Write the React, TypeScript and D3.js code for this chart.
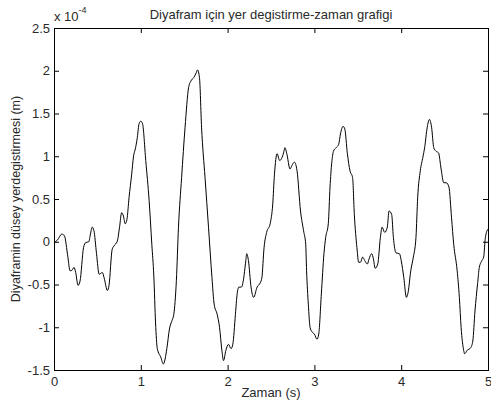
import { useEffect, useRef } from "react";
import * as d3 from "d3";

// time (s)
const time = [
  0.0, 0.04, 0.09, 0.12, 0.16, 0.185, 0.21, 0.23, 0.25, 0.277, 0.3, 0.34, 0.365, 0.4, 0.42, 0.44, 0.46, 0.49,
  0.52, 0.557, 0.577, 0.615, 0.634, 0.67, 0.69, 0.73, 0.755, 0.78, 0.8, 0.82, 0.84, 0.865, 0.895, 0.915, 0.94,
  0.96, 0.98, 1.0, 1.02, 1.057, 1.096, 1.127, 1.15, 1.17, 1.19, 1.23, 1.26, 1.3, 1.33, 1.36, 1.38, 1.41, 1.434,
  1.47, 1.51, 1.55, 1.577, 1.61, 1.64, 1.653, 1.676, 1.7, 1.74, 1.78, 1.82, 1.845, 1.88, 1.907, 1.934, 1.953,
  1.98, 2.01, 2.04, 2.06, 2.09, 2.11, 2.13, 2.16, 2.18, 2.21, 2.22, 2.24, 2.27, 2.3, 2.34, 2.376, 2.395, 2.42,
  2.45, 2.49, 2.52, 2.54, 2.57, 2.6, 2.645, 2.66, 2.68, 2.72, 2.74, 2.77, 2.8, 2.84, 2.875, 2.9, 2.91, 2.93,
  2.95, 2.97, 3.0, 3.03, 3.05, 3.08, 3.11, 3.13, 3.16, 3.18, 3.22, 3.25, 3.28, 3.3, 3.33, 3.35, 3.38, 3.41,
  3.44, 3.46, 3.49, 3.51, 3.53, 3.556, 3.58, 3.61, 3.63, 3.66, 3.68, 3.7, 3.73, 3.76, 3.78, 3.81, 3.84, 3.86,
  3.89, 3.91, 3.94, 3.98, 4.0, 4.03, 4.06, 4.08, 4.11, 4.14, 4.17, 4.19, 4.22, 4.25, 4.27, 4.3, 4.325, 4.35,
  4.375, 4.4, 4.43, 4.46, 4.49, 4.52, 4.55, 4.58, 4.605, 4.645, 4.67, 4.69, 4.72, 4.73, 4.76, 4.8, 4.825, 4.85,
  4.88, 4.9, 4.93, 4.95, 4.97, 5.0,
];

// vertical displacement (x 1e-4 m)
const displacement = [
  -0.01, 0.02, 0.09, 0.07, -0.18, -0.34, -0.33, -0.3, -0.36, -0.51, -0.46, -0.07, -0.01, 0.0, 0.09, 0.17, 0.13,
  -0.14, -0.38, -0.36, -0.42, -0.57, -0.51, -0.09, -0.05, 0.01, 0.17, 0.34, 0.3, 0.21, 0.26, 0.52, 0.79, 0.99,
  1.1, 1.22, 1.38, 1.41, 1.38, 0.95, 0.48, -0.03, -0.4, -0.95, -1.25, -1.35, -1.43, -1.25, -1.02, -0.92, -0.85,
  -0.45, 0.17, 0.75, 1.34, 1.8, 1.88, 1.92, 1.98, 2.01, 1.92, 1.34, 0.75, 0.17, -0.42, -0.73, -0.85, -1.0,
  -1.27, -1.39, -1.27, -1.2, -1.25, -1.2, -0.85, -0.61, -0.53, -0.53, -0.46, -0.22, -0.14, -0.22, -0.53, -0.65,
  -0.53, -0.48, -0.42, -0.07, 0.11, 0.21, 0.44, 0.79, 1.03, 0.95, 1.04, 1.1, 1.04, 0.85, 0.89, 0.93, 0.83, 0.36,
  0.13, -0.03, -0.34, -0.73, -1.0, -1.05, -1.08, -1.14, -1.08, -0.61, -0.14, 0.05, 0.21, 0.64, 1.06, 1.1, 1.14,
  1.26, 1.35, 1.32, 1.03, 0.83, 0.75, 0.32, -0.07, -0.24, -0.24, -0.18, -0.22, -0.26, -0.2, -0.14, -0.2, -0.31,
  -0.26, 0.05, 0.17, 0.11, 0.17, 0.36, 0.32, 0.05, -0.13, -0.14, -0.22, -0.42, -0.65, -0.59, -0.34, -0.18, 0.05,
  0.52, 0.83, 0.99, 1.1, 1.34, 1.43, 1.34, 1.1, 1.06, 1.04, 0.85, 0.69, 0.69, 0.64, 0.28, -0.03, -0.34, -0.65,
  -1.0, -1.27, -1.31, -1.27, -1.24, -1.16, -0.81, -0.49, -0.3, -0.22, -0.18, 0.05, 0.15,
];

const xTicks = [0, 1, 2, 3, 4, 5];
const yTicks = [-1.5, -1, -0.5, 0, 0.5, 1, 1.5, 2, 2.5];

const title = "Diyafram için yer degistirme-zaman grafigi";
const xLabel = "Zaman (s)";
const yLabel = "Diyaframin düsey yerdegistirmesi (m)";

const W = 491;
const H = 414;
const margin = { top: 28, right: 3, bottom: 44, left: 54 };
const font = "'Liberation Sans', Arial, sans-serif";
const textColor = "#2a2a2a";

const App = () => {
  const svgRef = useRef<SVGSVGElement | null>(null);

  useEffect(() => {
    const svg = d3.select(svgRef.current);
    svg.selectAll("*").remove();

    const pw = W - margin.left - margin.right;
    const ph = H - margin.top - margin.bottom;

    const x = d3.scaleLinear().domain([0, 5]).range([0, pw]);
    const y = d3.scaleLinear().domain([-1.5, 2.5]).range([ph, 0]);

    svg.append("rect").attr("width", W).attr("height", H).attr("fill", "#fff");

    const g = svg
      .append("g")
      .attr("transform", `translate(${margin.left},${margin.top})`);

    const data = time.map((t, i) => ({ t, v: displacement[i] }));

    const line = d3
      .line<{ t: number; v: number }>()
      .x((d) => x(d.t))
      .y((d) => y(d.v))
      .curve(d3.curveMonotoneX);

    g.append("path")
      .datum(data)
      .attr("fill", "none")
      .attr("stroke", "#000")
      .attr("stroke-width", 1)
      .attr("d", line);

    const fmt = (d: d3.NumberValue) => String(d);

    const bottom = g
      .append("g")
      .attr("transform", `translate(0,${ph})`)
      .call(d3.axisBottom(x).tickValues(xTicks).tickFormat(fmt).tickSize(-5).tickPadding(7));
    const top = g
      .append("g")
      .call(d3.axisTop(x).tickValues(xTicks).tickFormat(() => "").tickSize(-5));
    const left = g
      .append("g")
      .call(d3.axisLeft(y).tickValues(yTicks).tickFormat(fmt).tickSize(-5).tickPadding(4));
    const right = g
      .append("g")
      .attr("transform", `translate(${pw},0)`)
      .call(d3.axisRight(y).tickValues(yTicks).tickFormat(() => "").tickSize(-5));

    [bottom, top, left, right].forEach((a) => {
      a.select(".domain").remove();
      a.selectAll("line").attr("stroke", "#000");
      a.selectAll("text")
        .attr("fill", textColor)
        .style("font-family", font)
        .style("font-size", "13px");
    });
    // endpoint ticks sit on the box edges
    bottom.selectAll(".tick").filter((d) => d === 0 || d === 5).select("line").remove();
    top.selectAll(".tick").filter((d) => d === 0 || d === 5).select("line").remove();
    left.selectAll(".tick").filter((d) => d === -1.5 || d === 2.5).select("line").remove();
    right.selectAll(".tick").filter((d) => d === -1.5 || d === 2.5).select("line").remove();

    g.append("rect")
      .attr("width", pw)
      .attr("height", ph)
      .attr("fill", "none")
      .attr("stroke", "#000")
      .attr("stroke-width", 1)
      .attr("shape-rendering", "crispEdges");

    // exponent label
    const ex = svg
      .append("text")
      .attr("x", margin.left)
      .attr("y", 21)
      .attr("fill", textColor)
      .style("font-family", font)
      .style("font-size", "13px");
    ex.append("tspan").text("x 10");
    ex.append("tspan").attr("dy", -8).style("font-size", "9px").text("-4");

    svg
      .append("text")
      .attr("x", margin.left + pw / 2)
      .attr("y", 19)
      .attr("text-anchor", "middle")
      .attr("fill", textColor)
      .style("font-family", font)
      .style("font-size", "13px")
      .text(title);

    svg
      .append("text")
      .attr("x", margin.left + pw / 2)
      .attr("y", 397)
      .attr("text-anchor", "middle")
      .attr("fill", textColor)
      .style("font-family", font)
      .style("font-size", "13px")
      .text(xLabel);

    svg
      .append("text")
      .attr("transform", `translate(20,${margin.top + ph / 2}) rotate(-90)`)
      .attr("text-anchor", "middle")
      .attr("fill", textColor)
      .style("font-family", font)
      .style("font-size", "12.5px")
      .text(yLabel);
  }, []);

  return (
    <svg
      ref={svgRef}
      width={W}
      height={H}
      style={{ position: "absolute", left: 0, top: 0, display: "block" }}
    ></svg>
  );
};

export default App;
